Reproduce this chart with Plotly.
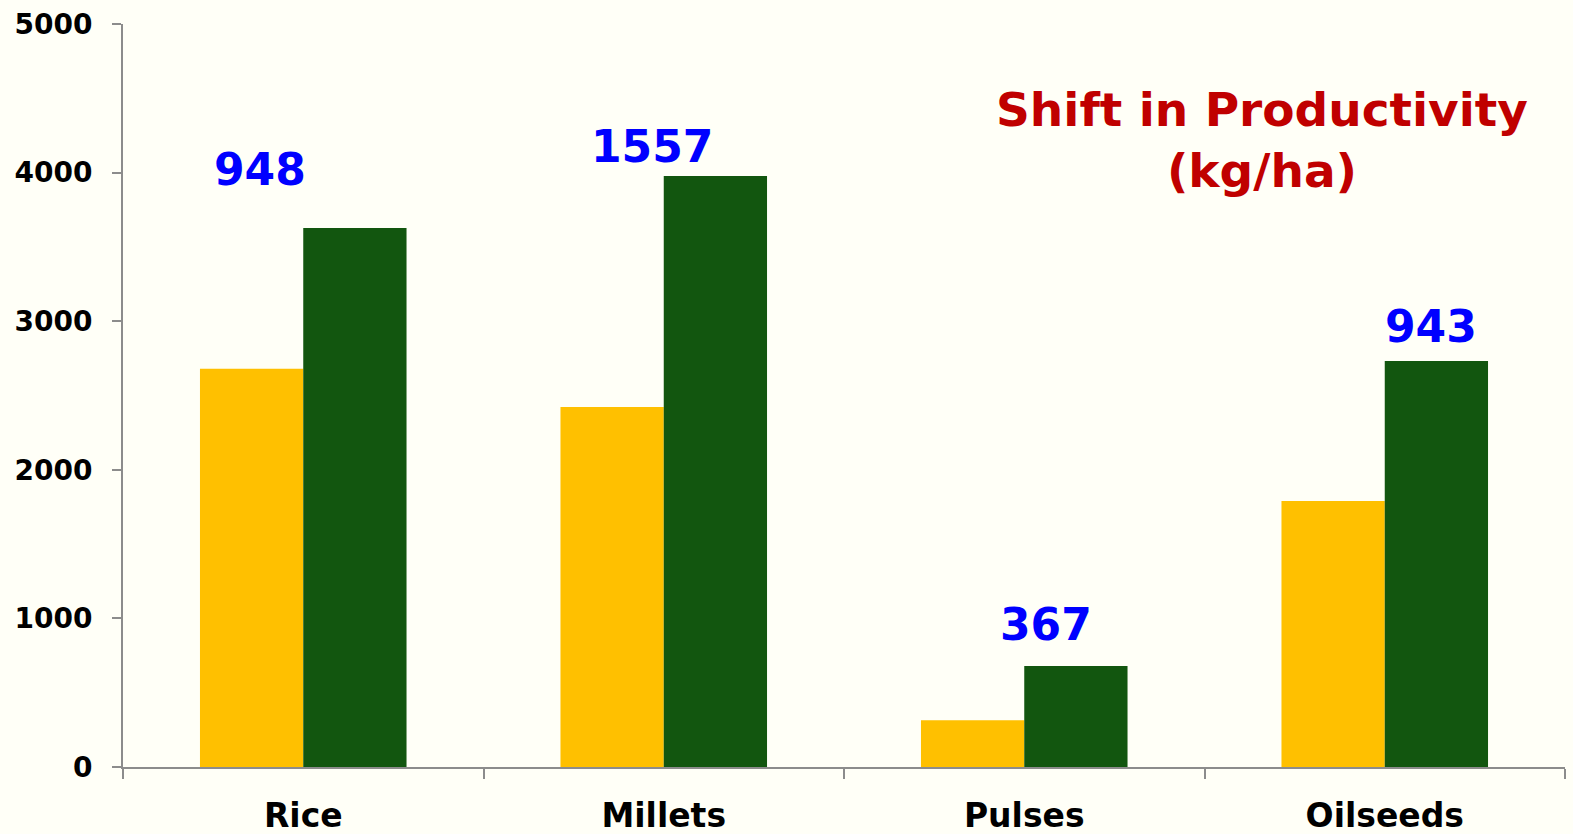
import plotly.graph_objects as go

# Productivity (kg/ha)
crops = ["Rice", "Millets", "Pulses", "Oilseeds"]
before = [2680, 2422, 314, 1790]
after = [3628, 3977, 680, 2733]
shift = [948, 1557, 367, 943]

y_ticks = [0, 1000, 2000, 3000, 4000, 5000]

BG = "#FFFFF7"
FONT = "DejaVu Sans"

fig = go.Figure()
fig.add_trace(go.Bar(x=crops, y=before, marker=dict(color="#FFC000", line=dict(width=0)),
                     showlegend=False))
fig.add_trace(go.Bar(x=crops, y=after, marker=dict(color="#12560F", line=dict(width=0)),
                     showlegend=False))

# shift labels, nudged like the original slide
x_nudge = [-43, -12, 22, 46]
y_nudge = [58, 30, 41, 34]
for crop, top, s, dx, dy in zip(crops, after, shift, x_nudge, y_nudge):
    fig.add_annotation(x=crop, y=top, text=f"<b>{s}</b>", showarrow=False,
                       xshift=dx, yshift=dy, yanchor="middle",
                       font=dict(family=FONT, size=44, color="#0000FF"))

fig.add_annotation(xref="paper", yref="paper", x=0.79, y=0.844,
                   text="<b>Shift in Productivity<br>(kg/ha)</b>", showarrow=False,
                   xanchor="center", yanchor="middle",
                   font=dict(family=FONT, size=47, color="#C00000"))

fig.update_layout(
    width=1573, height=834,
    barmode="group", bargap=0.427, bargroupgap=0,
    paper_bgcolor=BG, plot_bgcolor=BG,
    margin=dict(l=123, r=8, t=24, b=67),
    font=dict(family=FONT, color="#000000"),
    xaxis=dict(
        showline=True, linecolor="#8C8C8C", linewidth=2,
        ticks="outside", tickson="boundaries", ticklen=10, tickcolor="#8C8C8C", tickwidth=2,
        tickfont=dict(family=FONT, size=33, color="#000000", weight="bold"),
        ticklabelstandoff=18, showgrid=False, automargin=False,
    ),
    yaxis=dict(
        range=[0, 5000], tickvals=y_ticks,
        showline=True, linecolor="#8C8C8C", linewidth=2,
        ticks="outside", ticklen=9, tickcolor="#8C8C8C", tickwidth=2,
        tickfont=dict(family=FONT, size=28, color="#000000", weight="bold"),
        ticklabelstandoff=14, showgrid=False, zeroline=False, automargin=False,
    ),
)

fig.write_html(
    "out.html",
    config={"displayModeBar": False},
    post_script="document.body.style.margin='0';document.body.style.background='#FFFFF7';",
)
